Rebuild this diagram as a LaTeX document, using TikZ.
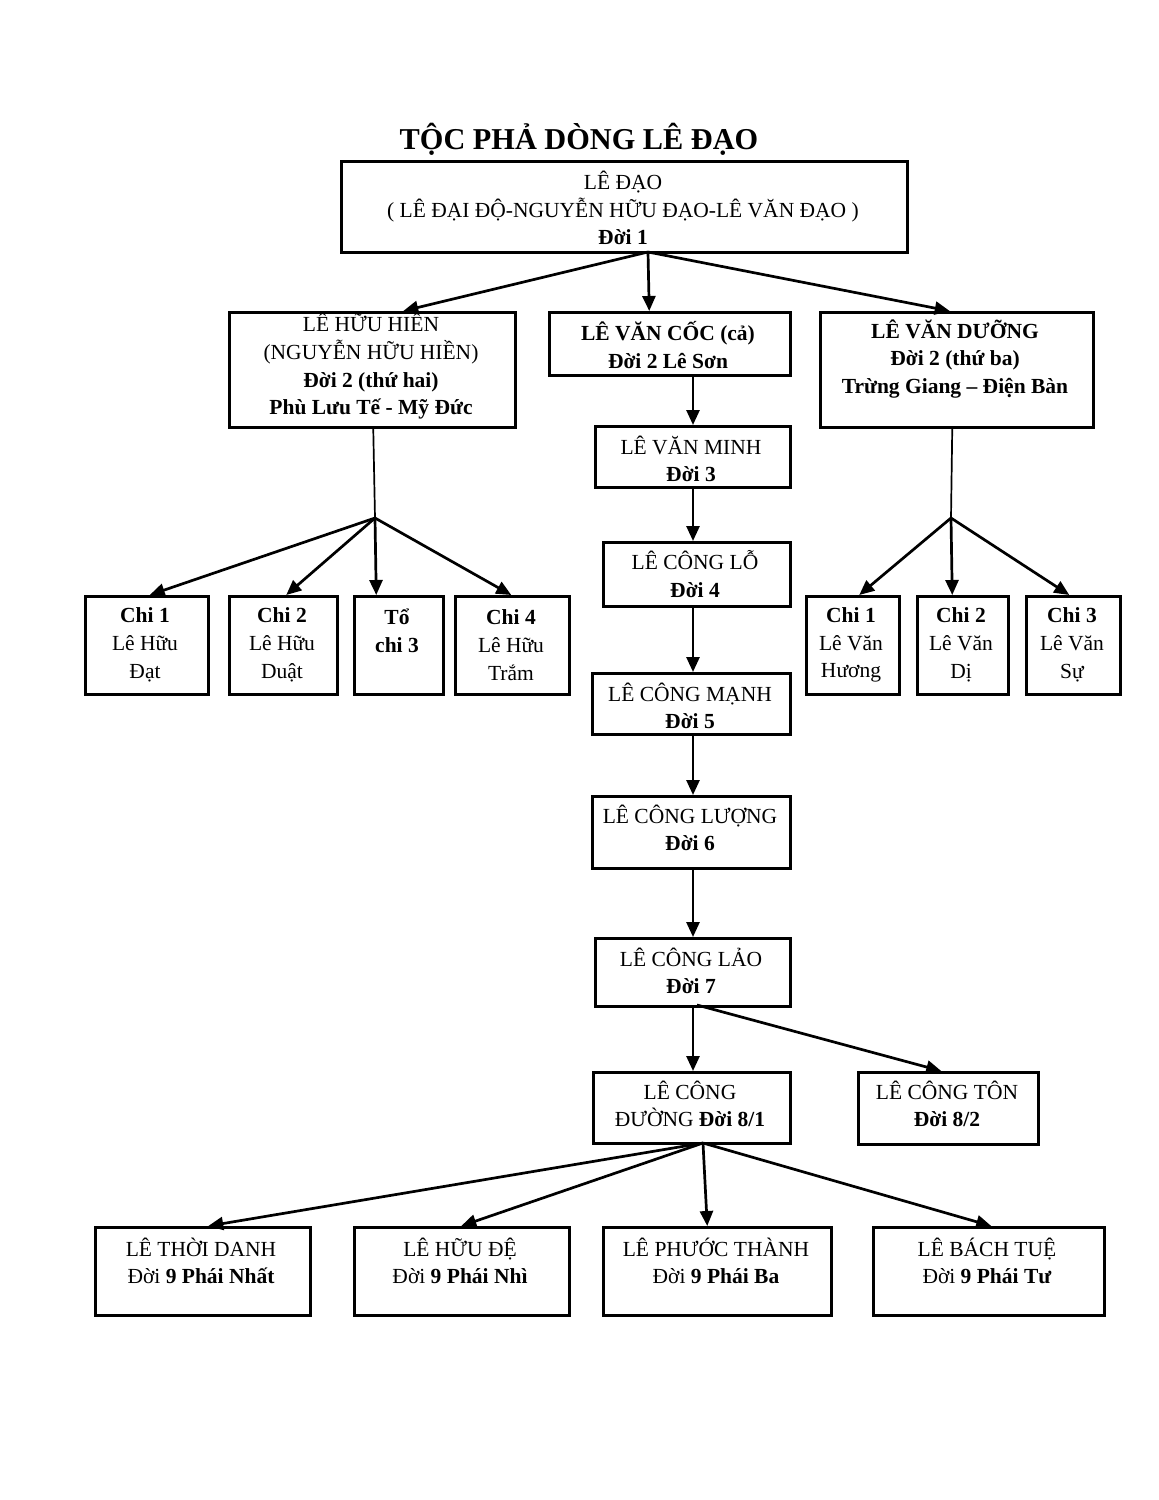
\documentclass[tikz,border=0pt]{standalone}
\usepackage{fontspec}
\setmainfont{Liberation Serif}
\usetikzlibrary{arrows.meta,calc}
\begin{document}
\begin{tikzpicture}[x=1pt,y=-1pt,
  box/.style={draw, line width=2.5pt, inner sep=0pt, anchor=north west},
  txt/.style={align=center, inner sep=0pt, font=\fontsize{21.5}{27.7}\selectfont},
  arr/.style={line width=2.7pt, -{Triangle[length=15pt,width=13pt]}},
  ln/.style={line width=1.7pt}]
\useasboundingbox (0,0) rectangle (1159,1500);
% title
\node[inner sep=0pt, font=\fontsize{30.3}{34}\selectfont\bfseries] (title) at (579,139) {TỘC PHẢ DÒNG LÊ ĐẠO};
% boxes
\node[box, minimum width=566, minimum height=91] (root) at (340,160) {};
\node[box, minimum width=286, minimum height=115] (hien) at (228,311) {};
\node[box, minimum width=241, minimum height=63] (coc) at (548,311) {};
\node[box, minimum width=273, minimum height=115] (duong) at (819,311) {};
\node[box, minimum width=195, minimum height=61] (minh) at (594,425) {};
\node[box, minimum width=187, minimum height=64] (lo) at (602,541) {};
\node[box, minimum width=198, minimum height=61] (manh) at (591,672) {};
\node[box, minimum width=198, minimum height=72] (luong) at (591,795) {};
\node[box, minimum width=195, minimum height=68] (lao) at (594,937) {};
\node[box, minimum width=197, minimum height=71] (duong8) at (592,1071) {};
\node[box, minimum width=180, minimum height=72] (ton) at (857,1071) {};
% left chi
\node[box, minimum width=123, minimum height=98] (lc1) at (84,595) {};
\node[box, minimum width=108, minimum height=98] (lc2) at (228,595) {};
\node[box, minimum width=89, minimum height=98] (lc3) at (353,595) {};
\node[box, minimum width=114, minimum height=98] (lc4) at (454,595) {};
% right chi
\node[box, minimum width=93, minimum height=98] (rc1) at (805,595) {};
\node[box, minimum width=91, minimum height=98] (rc2) at (916,595) {};
\node[box, minimum width=94, minimum height=98] (rc3) at (1025,595) {};
% bottom row
\node[box, minimum width=215, minimum height=88] (b1) at (94,1226) {};
\node[box, minimum width=215, minimum height=88] (b2) at (353,1226) {};
\node[box, minimum width=228, minimum height=88] (b3) at (602,1226) {};
\node[box, minimum width=231, minimum height=88] (b4) at (872,1226) {};
% texts
\node[txt] (rootT) at (623,208) {LÊ ĐẠO\\( LÊ ĐẠI ĐỘ-NGUYỄN HỮU ĐẠO-LÊ VĂN ĐẠO )\\\textbf{Đời 1}};
\node[txt] (hienT) at (371,366) {LÊ HỮU HIỀN\\(NGUYỄN HỮU HIỀN)\\\textbf{Đời 2 (thứ hai)}\\\textbf{Phù Lưu Tế - Mỹ Đức}};
\node[txt, font=\fontsize{21.5}{27.7}\selectfont\bfseries] (cocT) at (668,345) {LÊ VĂN CỐC (cả)\\Đời 2 Lê Sơn};
\node[txt, font=\fontsize{21.5}{27.7}\selectfont\bfseries] (duongT) at (955,359) {LÊ VĂN DƯỠNG\\Đời 2 (thứ ba)\\Trừng Giang – Điện Bàn};
\node[txt] (minhT) at (691,459) {LÊ VĂN MINH\\\textbf{Đời 3}};
\node[txt] (loT) at (695,574) {LÊ CÔNG LỖ\\\textbf{Đời 4}};
\node[txt] (manhT) at (690,706) {LÊ CÔNG MẠNH\\\textbf{Đời 5}};
\node[txt] (luongT) at (690,828) {LÊ CÔNG LƯỢNG\\\textbf{Đời 6}};
\node[txt] (laoT) at (691,971) {LÊ CÔNG LẢO\\\textbf{Đời 7}};
\node[txt] (duong8T) at (690,1104) {LÊ CÔNG\\ĐƯỜNG \textbf{Đời 8/1}};
\node[txt] (tonT) at (947,1104) {LÊ CÔNG TÔN\\\textbf{Đời 8/2}};
\node[txt] (lc1T) at (145,645) {\textbf{Chi 1}\\Lê Hữu\\Đạt};
\node[txt] (lc2T) at (282,645) {\textbf{Chi 2}\\Lê Hữu\\Duật};
\node[txt, font=\fontsize{21.5}{27.7}\selectfont\bfseries] (lc3T) at (397,631) {Tổ\\chi 3};
\node[txt] (lc4T) at (511,645) {\textbf{Chi 4}\\Lê Hữu\\Trắm};
\node[txt] (rc1T) at (851,645) {\textbf{Chi 1}\\Lê Văn\\Hương};
\node[txt] (rc2T) at (961,645) {\textbf{Chi 2}\\Lê Văn\\Dị};
\node[txt] (rc3T) at (1072,645) {\textbf{Chi 3}\\Lê Văn\\Sự};
\node[txt] (b1T) at (201,1261) {LÊ THỜI DANH\\Đời \textbf{9 Phái Nhất}};
\node[txt] (b2T) at (460,1261) {LÊ HỮU ĐỆ\\Đời \textbf{9 Phái Nhì}};
\node[txt] (b3T) at (716,1261) {LÊ PHƯỚC THÀNH\\Đời \textbf{9 Phái Ba}};
\node[txt] (b4T) at (987,1261) {LÊ BÁCH TUỆ\\Đời \textbf{9 Phái Tư}};
% coordinates
\coordinate (rootS) at (648,252);
\coordinate (midx) at (693,0);
\coordinate (hubL) at (375,518);
\coordinate (hubR) at (951,518);
\coordinate (laoS) at (697,1005);
\coordinate (d8S) at (703,1143);
% connectors from root
\draw[arr] (rootS) -- ([xshift=31pt]hien.north);
\draw[arr] (rootS) -- ([xshift=-20.5pt]coc.north);
\draw[arr] (rootS) -- ([xshift=-7pt]duong.north);
% left branch
\draw[ln] ([xshift=1pt]hien.south) -- (hubL);
\draw[arr] (hubL) -- ([xshift=3pt]lc1.north);
\draw[arr] (hubL) -- ([xshift=3pt]lc2.north);
\draw[arr] (hubL) -- ([xshift=-22.5pt]lc3.north);
\draw[arr] (hubL) -- ([xshift=-1pt]lc4.north);
% right branch
\draw[ln] ([xshift=-4.5pt]duong.south) -- (hubR);
\draw[arr] (hubR) -- ([xshift=6.5pt]rc1.north);
\draw[arr] (hubR) -- ([xshift=-10.5pt]rc2.north);
\draw[arr] (hubR) -- ([xshift=-4pt]rc3.north);
% middle chain
\draw[arr] (coc.south -| midx) -- (minh.north -| midx);
\draw[arr] (minh.south -| midx) -- (lo.north -| midx);
\draw[arr] (lo.south -| midx) -- (manh.north -| midx);
\draw[arr] (manh.south -| midx) -- (luong.north -| midx);
\draw[arr] (luong.south -| midx) -- (lao.north -| midx);
\draw[arr] (lao.south -| midx) -- (duong8.north -| midx);
\draw[arr] (laoS) -- ([xshift=-7pt]ton.north);
% bottom fan
\draw[arr] (d8S) -- ([xshift=5.5pt]b1.north);
\draw[arr] (d8S) -- ([xshift=-0.5pt]b2.north);
\draw[arr] (d8S) -- ([xshift=-10pt]b3.north);
\draw[arr] (d8S) -- ([xshift=2.5pt]b4.north);
\end{tikzpicture}
\end{document}
